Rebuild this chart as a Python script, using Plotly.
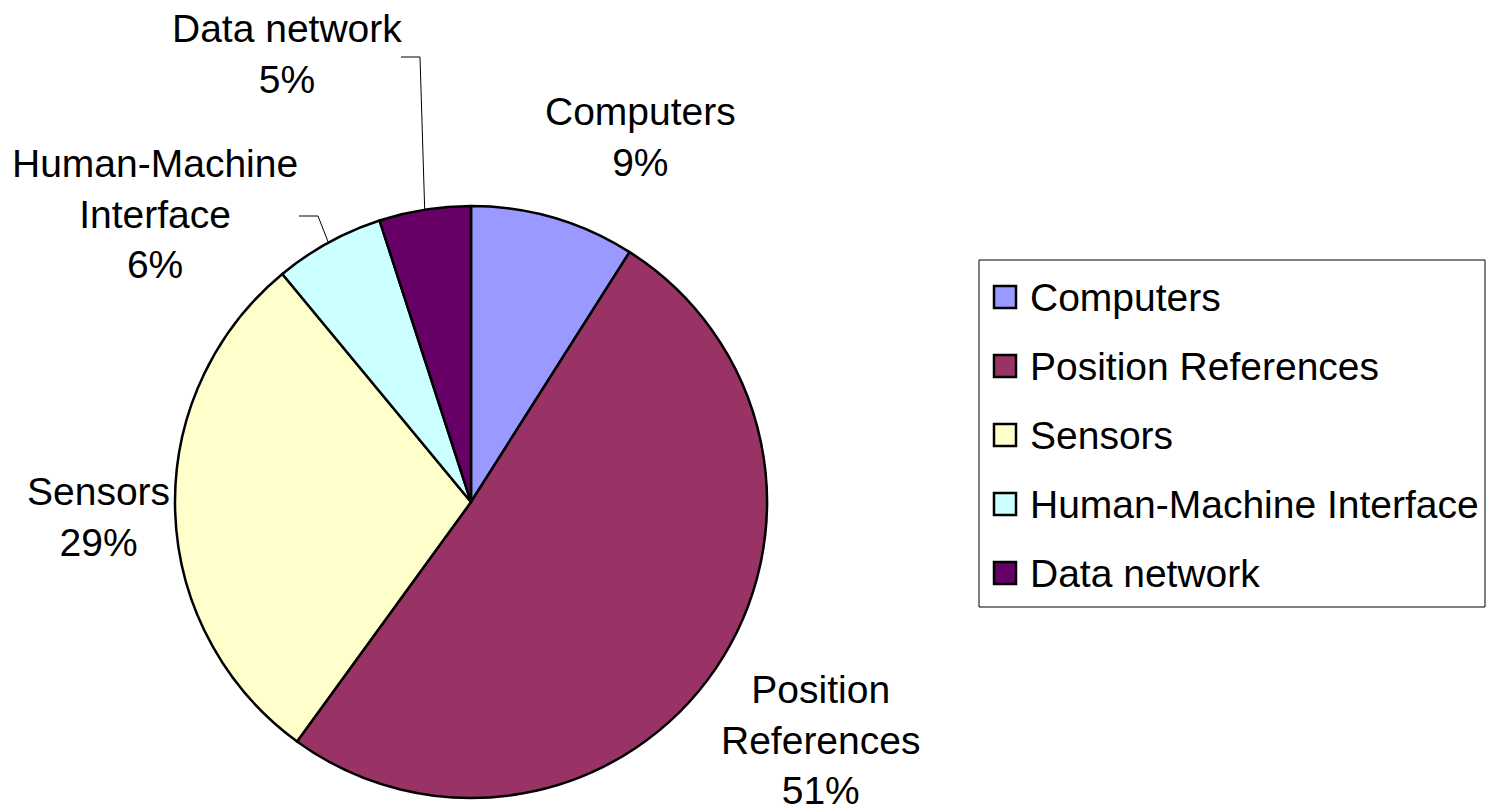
import math
import plotly.graph_objects as go

categories = ["Computers", "Position References", "Sensors", "Human-Machine Interface", "Data network"]
values = [9, 51, 29, 6, 5]
colors = ["#9999FF", "#993366", "#FFFFCC", "#CCFFFF", "#660066"]
slice_labels = ["Computers", "Position<br>References", "Sensors", "Human-Machine<br>Interface", "Data network"]

# page has an 8px body margin: size the figure to fit the window and
# map the hidden axes straight onto window pixels
OFF = 8
WIN_W, WIN_H = 1501, 812
W, H = WIN_W - OFF, WIN_H - OFF
CX, CY, R = 471, 502, 296          # window pixels
FONT = "Liberation Sans, Arial, sans-serif"
FS = 39

fx, fy = CX - OFF, CY - OFF
fig = go.Figure()
fig.add_trace(go.Pie(
    labels=categories, values=values, sort=False, direction="clockwise", rotation=0,
    marker=dict(colors=colors, line=dict(color="black", width=2.5)),
    textinfo="none", hoverinfo="label+percent", showlegend=False,
    domain=dict(x=[(fx - R) / W, (fx + R) / W], y=[(H - fy - R) / H, (H - fy + R) / H]),
))

label_pos = {
    "Computers": (640, 137),
    "Position References": (820, 740),
    "Sensors": (98, 517),
    "Human-Machine Interface": (155, 214),
    "Data network": (287, 54),
}
total = sum(values)
annotations = []
shapes = []
for cat, txt, v in zip(categories, slice_labels, values):
    x, y = label_pos[cat]
    annotations.append(dict(x=x, y=y, xref="x", yref="y", text=f"{txt}<br>{round(100 * v / total)}%",
                            showarrow=False, xanchor="center", yanchor="middle", align="center",
                            font=dict(family=FONT, size=FS, color="black")))

elbows = {"Data network": ((401, 57), (420, 57)), "Human-Machine Interface": ((299, 216), (318, 216))}
cum = 0
for cat, v in zip(categories, values):
    mid = (cum + v / 2) / total * 2 * math.pi
    cum += v
    if cat in elbows:
        (x0, y0), (x1, y1) = elbows[cat]
        ex = CX + R * math.sin(mid)
        ey = CY - R * math.cos(mid)
        shapes.append(dict(type="path", xref="x", yref="y",
                           path=f"M{x0},{y0} L{x1},{y1} L{ex:.1f},{ey:.1f}",
                           line=dict(color="black", width=1)))

LX0, LY0, LX1, LY1 = 979, 260, 1485, 607
shapes.append(dict(type="rect", xref="x", yref="y", x0=LX0, y0=LY0, x1=LX1, y1=LY1,
                   line=dict(color="black", width=1), fillcolor="white", layer="below"))
ly_start, ly_step = 297, 69
for i, (cat, c) in enumerate(zip(categories, colors)):
    yc = ly_start + i * ly_step
    shapes.append(dict(type="rect", xref="x", yref="y", x0=994, x1=1016, y0=yc - 11, y1=yc + 11,
                       line=dict(color="black", width=2.5), fillcolor=c))
    annotations.append(dict(x=1028, y=yc, xref="x", yref="y", text=cat, showarrow=False,
                            xanchor="left", yanchor="middle",
                            font=dict(family=FONT, size=FS, color="black")))

fig.update_layout(
    width=W, height=H, margin=dict(l=0, r=0, t=0, b=0),
    paper_bgcolor="white", plot_bgcolor="rgba(0,0,0,0)",
    xaxis=dict(range=[OFF, WIN_W], visible=False, fixedrange=True),
    yaxis=dict(range=[WIN_H, OFF], visible=False, fixedrange=True),
    annotations=annotations, shapes=shapes, showlegend=False,
)

fig.write_html("out.html")
